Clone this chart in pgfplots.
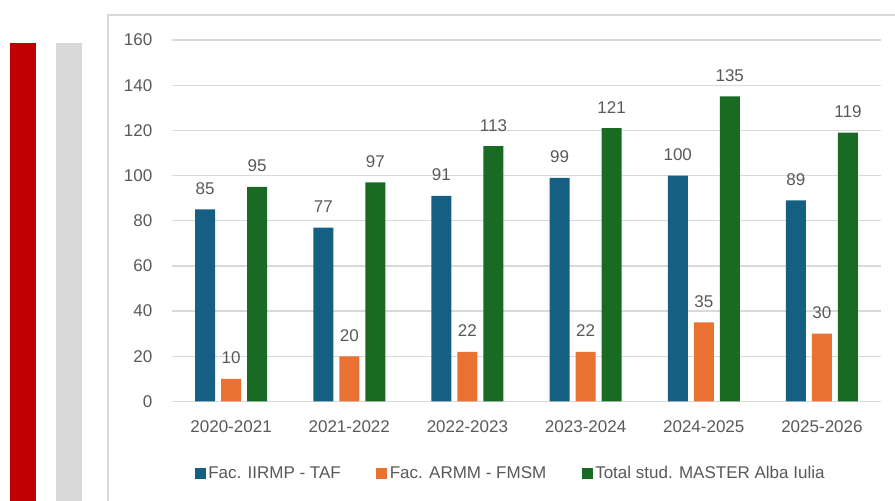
\documentclass[border=0pt]{standalone}
\usepackage{pgfplots}
\pgfplotsset{compat=1.18}
\usepackage{fontspec}
\setmainfont{Liberation Sans}
\definecolor{cblue}{HTML}{156082}
\definecolor{corange}{HTML}{E97132}
\definecolor{cgreen}{HTML}{196B24}
\definecolor{cred}{HTML}{C00000}
\definecolor{cgrey}{HTML}{D9D9D9}
\definecolor{ctext}{HTML}{595959}
\begin{document}
\begin{tikzpicture}[x=1bp,y=1bp]
\useasboundingbox (0,0) rectangle (895,501);
\fill[cred] (10,0) rectangle (36,458);
\fill[cgrey] (56,0) rectangle (82,458);
\draw[cgrey, line width=1.5bp] (108,0) -- (108,486) -- (895,486);
\begin{axis}[
  at={(172bp,99.5bp)}, anchor=south west,
  scale only axis, width=709bp, height=361.5bp,
  ybar=6bp, bar width=20bp,
  xmin=-0.5, xmax=5.5, ymin=0, ymax=160,
  xtick=data,
  xticklabels={2020-2021,2021-2022,2022-2023,2023-2024,2024-2025,2025-2026},
  ytick={0,20,...,160},
  axis line style={draw=none},
  major tick length=0pt,
  ymajorgrids,
  grid style={cgrey, line width=1.3bp},
  /pgf/number format/assume math mode=true,
  tick label style={font=\fontsize{17bp}{20bp}\selectfont, text=ctext},
  yticklabel style={anchor=east, inner sep=0pt, xshift=-19.5bp},
  xticklabel style={anchor=center, inner sep=0pt, yshift=-25.5bp},
  nodes near coords,
  every node near coord/.append style={font=\fontsize{17bp}{20bp}\selectfont, text=ctext, anchor=center, inner sep=0pt, yshift=21bp},
  legend style={at={(0.478,-0.198)}, anchor=center, draw=none, legend columns=3,
    font=\fontsize{17bp}{20bp}\selectfont, text=ctext,
    /tikz/every even column/.append style={column sep=33bp},
    nodes={inner sep=2.5bp}},
  legend image code/.code={\fill[#1] (0bp,-5.5bp) rectangle (11bp,5.5bp);},
]
\addplot[fill=cblue, draw=none] coordinates {(0,85) (1,77) (2,91) (3,99) (4,100) (5,89)};
\addplot[fill=corange, draw=none] coordinates {(0,10) (1,20) (2,22) (3,22) (4,35) (5,30)};
\addplot[fill=cgreen, draw=none] coordinates {(0,95) (1,97) (2,113) (3,121) (4,135) (5,119)};
\legend{Fac. IIRMP - TAF, Fac. ARMM - FMSM, Total stud. MASTER Alba Iulia}
\end{axis}
\end{tikzpicture}
\end{document}
